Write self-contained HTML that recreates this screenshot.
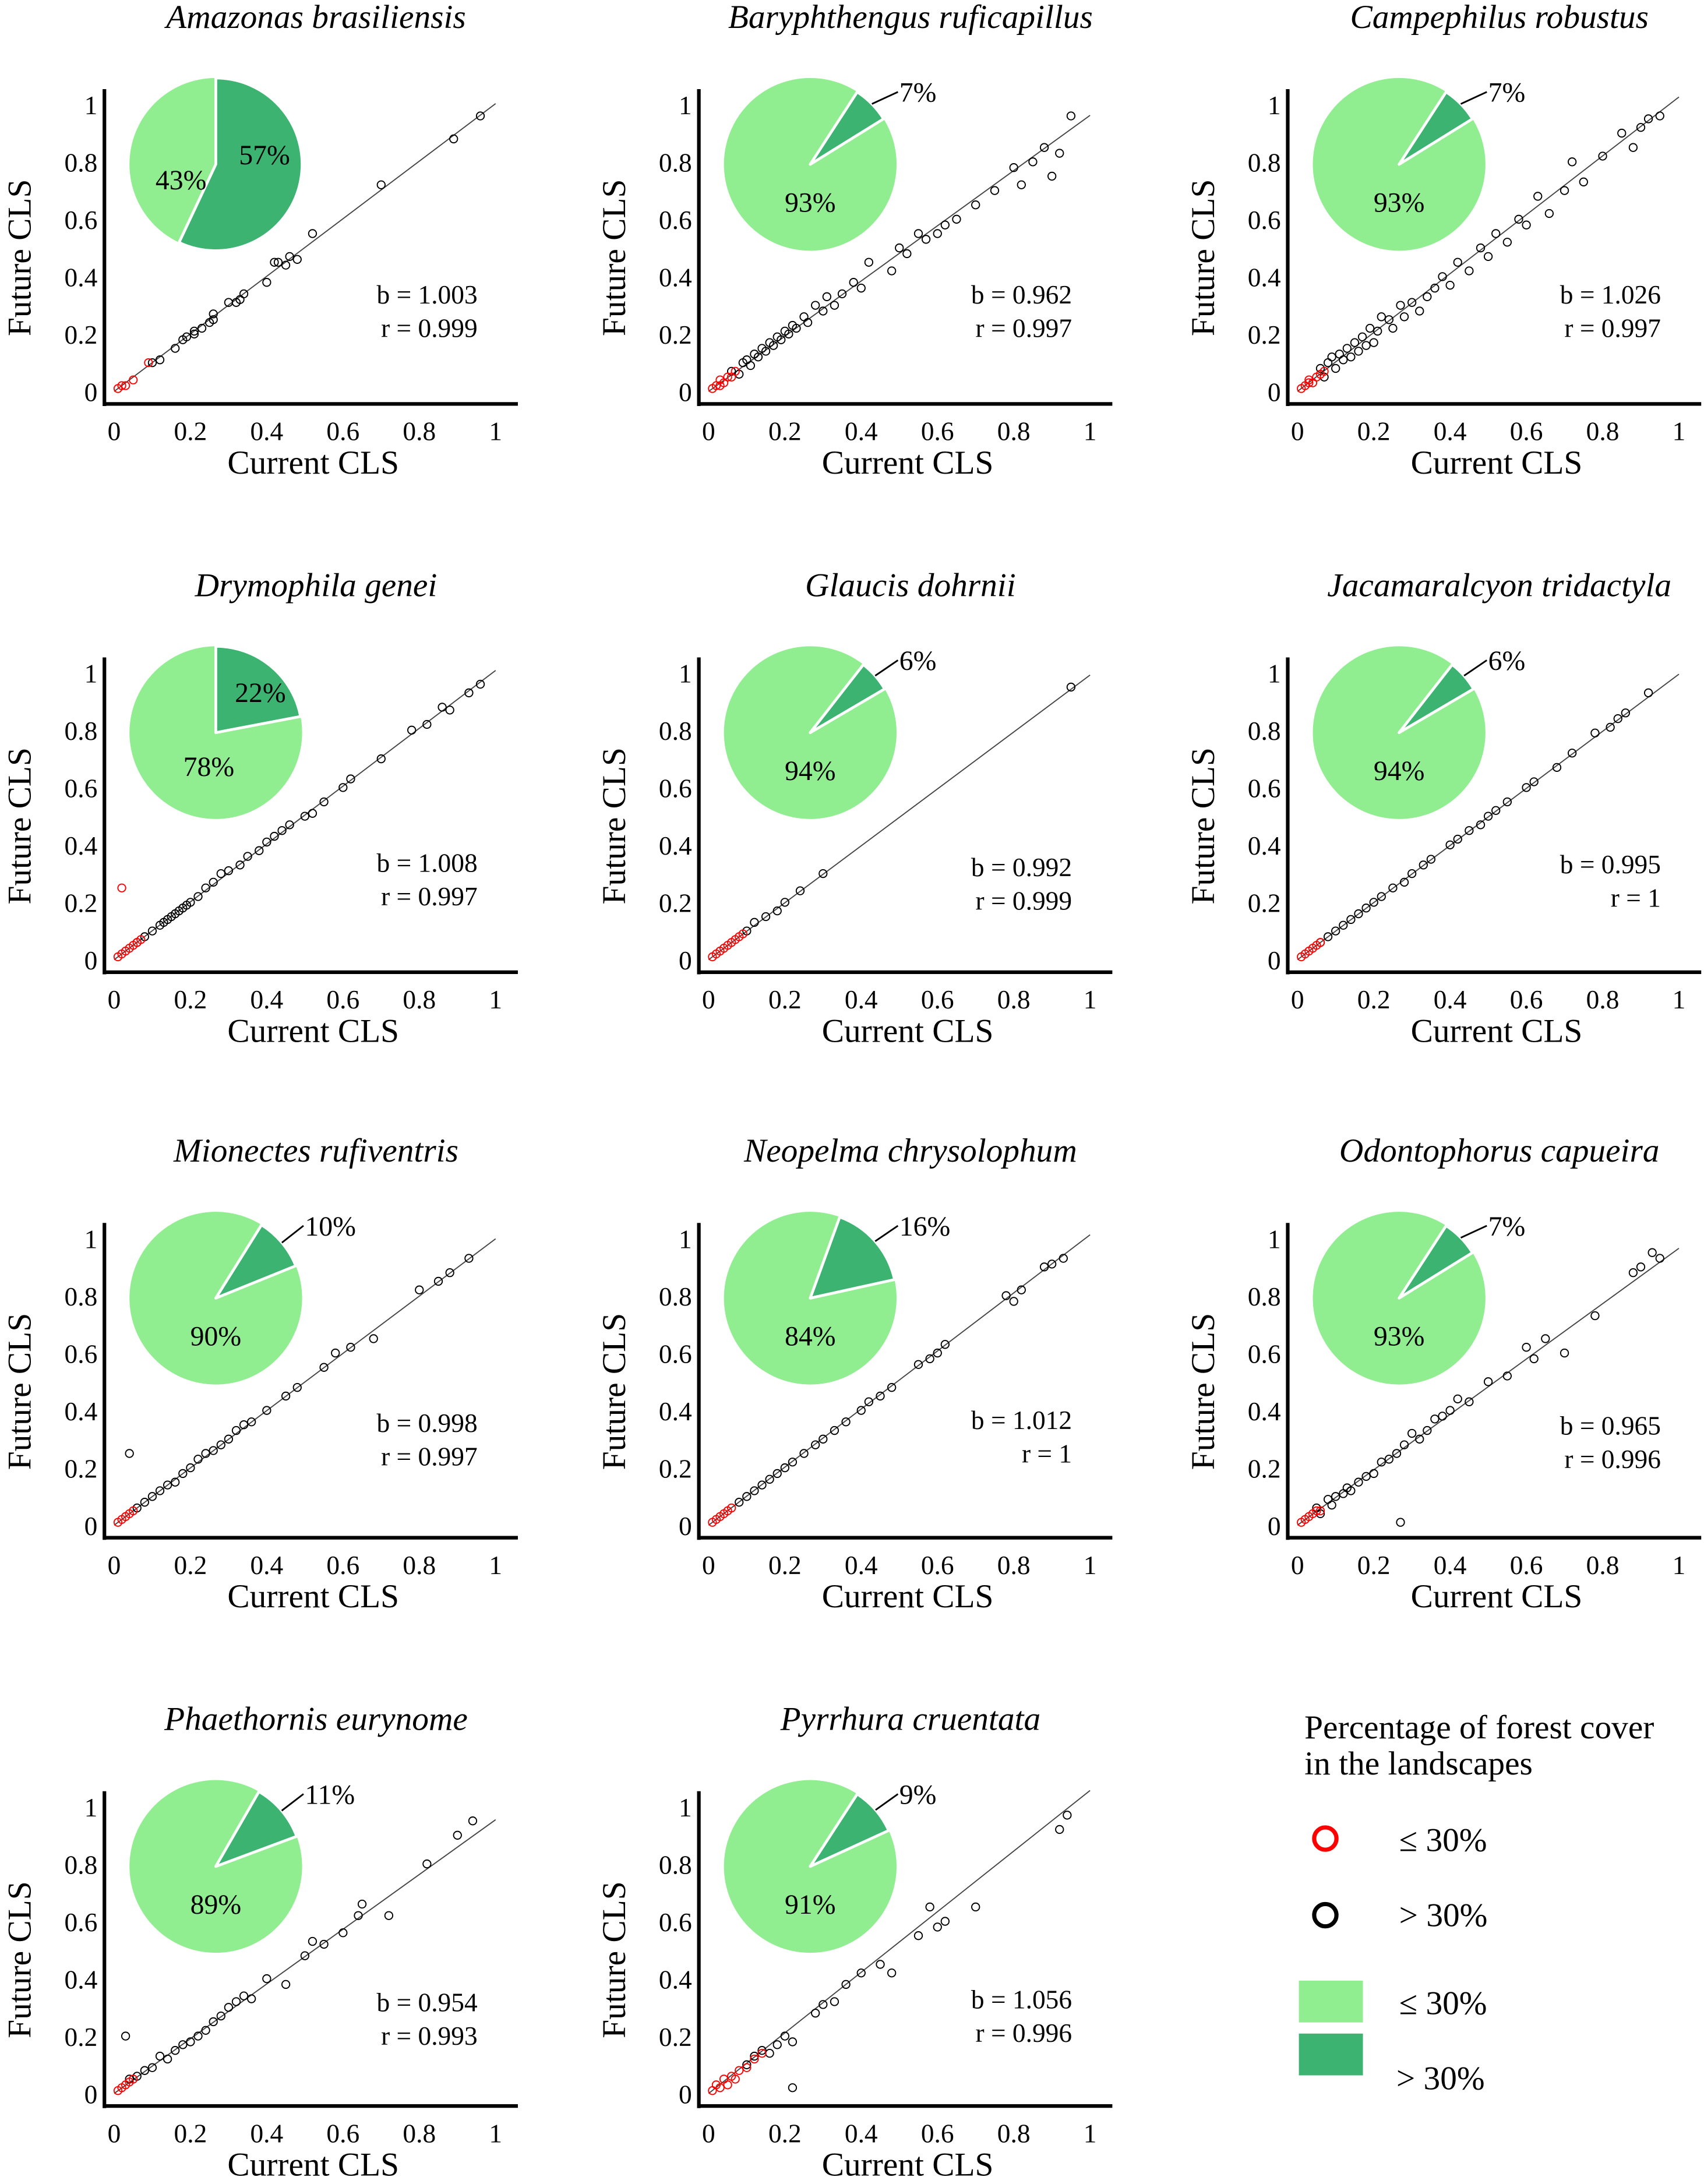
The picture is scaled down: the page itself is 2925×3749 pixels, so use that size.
<!DOCTYPE html>
<html><head><meta charset="utf-8">
<style>
html,body{margin:0;padding:0;background:#fff;}
svg{display:block;font-family:"Liberation Serif",serif;}
</style></head>
<body>
<svg id="fig" width="2925" height="3749" viewBox="0 0 1224 1568" preserveAspectRatio="none" xmlns="http://www.w3.org/2000/svg">
<g>
<text x="937" y="1248" font-size="24">Percentage of forest cover</text>
<text x="937" y="1274" font-size="24">in the landscapes</text>
<circle cx="952" cy="1320" r="8" fill="none" stroke="#ff0000" stroke-width="3"/>
<text x="1005" y="1329" font-size="24">≤ 30%</text>
<circle cx="952" cy="1375" r="8" fill="none" stroke="#000" stroke-width="3"/>
<text x="1005" y="1383" font-size="24">&gt; 30%</text>
<rect x="933" y="1422" width="46" height="30" fill="#90EE90"/>
<text x="1005" y="1446" font-size="24">≤ 30%</text>
<rect x="933" y="1460" width="46" height="30" fill="#3CB371"/>
<text x="1003" y="1500" font-size="24">&gt; 30%</text>
</g>
</svg>
<script>
// ---- data ----
const titles = ["Amazonas brasiliensis","Baryphthengus ruficapillus","Campephilus robustus","Drymophila genei","Glaucis dohrnii","Jacamaralcyon tridactyla","Mionectes rufiventris","Neopelma chrysolophum","Odontophorus capueira","Phaethornis eurynome","Pyrrhura cruentata"];
const darkPct = [57,7,7,22,6,6,10,16,7,11,9];
const slopes = ["1.003","0.962","1.026","1.008","0.992","0.995","0.998","1.012","0.965","0.954","1.056"];
const corrs = ["0.999","0.997","0.997","0.997","0.999","1","0.997","1","0.996","0.993","0.996"];
const tickLabels = ["0","0.2","0.4","0.6","0.8","1"];
const tickValues = [0,0.2,0.4,0.6,0.8,1];

const p1BlackX=[.10,.12,.16,.18,.19,.21,.21,.23,.25,.26,.26,.30,.32,.33,.34,.40,.42,.43,.45,.46,.48,.52,.70,.89,.96];
const p1BlackY=[.10,.11,.15,.18,.19,.20,.21,.22,.24,.25,.27,.31,.31,.32,.34,.38,.45,.45,.44,.47,.46,.55,.72,.88,.96];
const p1RedX=[.01,.02,.03,.05,.09];
const p1RedY=[.01,.02,.02,.04,.10];

const p2BlackX=[.06,.08,.09,.10,.11,.12,.13,.14,.15,.16,.17,.18,.19,.20,.21,.22,.23,.25,.26,.28,.30,.31,.33,.35,.38,.40,.42,.48,.50,.52,.55,.57,.60,.62,.65,.70,.75,.80,.82,.85,.88,.90,.92,.95];
const p2BlackY=[.07,.06,.10,.11,.09,.13,.12,.15,.14,.17,.16,.19,.18,.21,.20,.23,.22,.26,.24,.30,.28,.33,.30,.34,.38,.36,.45,.42,.50,.48,.55,.53,.55,.58,.60,.65,.70,.78,.72,.80,.85,.75,.83,.96];
const p2RedX=[.01,.02,.03,.03,.04,.05,.06,.07];
const p2RedY=[.01,.02,.02,.04,.03,.05,.05,.07];

const p3BlackX=[.06,.07,.08,.09,.10,.11,.12,.13,.14,.15,.16,.17,.18,.19,.20,.21,.22,.24,.25,.27,.28,.30,.32,.34,.36,.38,.40,.42,.45,.48,.50,.52,.55,.58,.60,.63,.66,.70,.72,.75,.80,.85,.88,.90,.92,.95];
const p3BlackY=[.08,.05,.10,.12,.08,.13,.11,.15,.12,.17,.14,.19,.16,.22,.17,.21,.26,.25,.22,.30,.26,.31,.28,.33,.36,.40,.37,.45,.42,.50,.47,.55,.52,.60,.58,.68,.62,.70,.80,.73,.82,.90,.85,.92,.95,.96];
const p3RedX=[.01,.02,.03,.03,.04,.05,.06,.07];
const p3RedY=[.01,.02,.03,.04,.03,.05,.06,.07];

const p4BlackX=[.06,.08,.10,.12,.13,.14,.15,.16,.17,.18,.19,.20,.22,.24,.26,.28,.30,.33,.35,.38,.40,.42,.44,.46,.50,.52,.55,.60,.62,.70,.78,.82,.86,.88,.93,.96];
const p4BlackY=[.06,.08,.10,.12,.13,.14,.15,.16,.17,.18,.19,.20,.22,.25,.27,.30,.31,.33,.36,.38,.41,.43,.45,.47,.50,.51,.55,.60,.63,.70,.80,.82,.88,.87,.93,.96];
const p4RedX=[.01,.02,.03,.04,.05,.06,.07,.02];
const p4RedY=[.01,.02,.03,.04,.05,.06,.07,.25];

const p5BlackX=[.10,.12,.15,.18,.20,.24,.30,.95];
const p5BlackY=[.10,.13,.15,.17,.20,.24,.30,.95];
const p5RedX=[.01,.02,.03,.04,.05,.06,.07,.08,.09];
const p5RedY=[.01,.02,.03,.04,.05,.06,.07,.08,.09];

const p6BlackX=[.06,.08,.10,.12,.14,.16,.18,.20,.22,.25,.28,.30,.33,.35,.40,.42,.45,.48,.50,.52,.55,.60,.62,.68,.72,.78,.82,.84,.86,.92];
const p6BlackY=[.06,.08,.10,.12,.14,.16,.18,.20,.22,.25,.27,.30,.33,.35,.40,.42,.45,.47,.50,.52,.55,.60,.62,.67,.72,.79,.81,.84,.86,.93];
const p6RedX=[.01,.02,.03,.04,.05,.06];
const p6RedY=[.01,.02,.03,.04,.05,.06];

const p7BlackX=[.06,.08,.10,.12,.14,.16,.18,.20,.22,.24,.26,.28,.30,.32,.34,.36,.40,.45,.48,.55,.58,.62,.68,.80,.85,.88,.93,.04];
const p7BlackY=[.06,.08,.10,.12,.14,.15,.18,.20,.23,.25,.26,.28,.30,.33,.35,.36,.40,.45,.48,.55,.60,.62,.65,.82,.85,.88,.93,.25];
const p7RedX=[.01,.02,.03,.04,.05];
const p7RedY=[.01,.02,.03,.04,.05];

const p8BlackX=[.08,.10,.12,.14,.16,.18,.20,.22,.25,.28,.30,.33,.36,.40,.42,.45,.48,.55,.58,.60,.62,.78,.80,.82,.88,.90,.93];
const p8BlackY=[.08,.10,.12,.14,.16,.18,.20,.22,.25,.28,.30,.33,.36,.40,.43,.45,.48,.56,.58,.60,.63,.80,.78,.82,.90,.91,.93];
const p8RedX=[.01,.02,.03,.04,.05,.06];
const p8RedY=[.01,.02,.03,.04,.05,.06];

const p9BlackX=[.05,.06,.08,.09,.10,.12,.13,.14,.16,.18,.20,.22,.24,.26,.28,.30,.32,.34,.36,.38,.40,.42,.45,.50,.55,.60,.62,.65,.70,.78,.88,.90,.93,.95,.27];
const p9BlackY=[.06,.04,.09,.07,.10,.11,.13,.12,.15,.17,.18,.22,.23,.25,.28,.32,.30,.33,.37,.38,.40,.44,.43,.50,.52,.62,.58,.65,.60,.73,.88,.90,.95,.93,.01];
const p9RedX=[.01,.02,.03,.04,.05,.06];
const p9RedY=[.01,.02,.03,.04,.05,.05];

const p10BlackX=[.04,.06,.08,.10,.12,.14,.16,.18,.20,.22,.24,.26,.28,.30,.32,.34,.36,.40,.45,.50,.52,.55,.60,.64,.65,.72,.82,.90,.94,.03];
const p10BlackY=[.05,.06,.08,.09,.13,.12,.15,.17,.18,.20,.22,.25,.27,.30,.32,.34,.33,.40,.38,.48,.53,.52,.56,.62,.66,.62,.80,.90,.95,.20];
const p10RedX=[.01,.02,.03,.04,.05];
const p10RedY=[.01,.02,.03,.04,.05];

const p11BlackX=[.10,.12,.14,.16,.18,.20,.22,.28,.30,.33,.36,.40,.45,.48,.55,.58,.60,.62,.70,.92,.94,.22];
const p11BlackY=[.10,.13,.15,.14,.17,.20,.18,.28,.31,.32,.38,.42,.45,.42,.55,.65,.58,.60,.65,.92,.97,.02];
const p11RedX=[.01,.02,.03,.04,.05,.06,.07,.08,.10,.12,.14];
const p11RedY=[.01,.03,.02,.05,.03,.06,.05,.08,.09,.12,.14];

const blackXs=[p1BlackX,p2BlackX,p3BlackX,p4BlackX,p5BlackX,p6BlackX,p7BlackX,p8BlackX,p9BlackX,p10BlackX,p11BlackX];
const blackYs=[p1BlackY,p2BlackY,p3BlackY,p4BlackY,p5BlackY,p6BlackY,p7BlackY,p8BlackY,p9BlackY,p10BlackY,p11BlackY];
const redXs=[p1RedX,p2RedX,p3RedX,p4RedX,p5RedX,p6RedX,p7RedX,p8RedX,p9RedX,p10RedX,p11RedX];
const redYs=[p1RedY,p2RedY,p3RedY,p4RedY,p5RedY,p6RedY,p7RedY,p8RedY,p9RedY,p10RedY,p11RedY];

// ---- layout ----
const colX=[75,502,925];
const rowY=[290,698,1104,1512];
const statDy=[-72,-72,-72,-72,-69,-71,-76,-78,-74,-68,-70];
const pieStartDeg=[0,33,33,0,38,38,32,20,33,30,33];
const svg=document.getElementById('fig');
const NS='http://www.w3.org/2000/svg';
function mk(tag,attrs,parent){const e=document.createElementNS(NS,tag);for(const k in attrs)e.setAttribute(k,attrs[k]);parent.appendChild(e);return e;}

titles.forEach((t,i)=>{
  const ax=colX[i%3], ay=rowY[Math.floor(i/3)];
  const sx=v=>ax+7+v*274;
  const sy=v=>ay-9-v*206;
  const g=mk('g',{},svg);
  
  
  const tt=mk('text',{x:ax+152,y:ay-270,'font-size':24,'font-style':'italic','text-anchor':'middle'},g);
  tt.textContent=t;
  
  
  const ya=mk('line',{x1:ax,y1:ay-226,x2:ax,y2:ay+1.5,stroke:'#000','stroke-width':2.6},g);
  
  
  const xa=mk('line',{x1:ax-1,y1:ay,x2:ax+297,y2:ay,stroke:'#000','stroke-width':2.6},g);
  
  
  tickValues.forEach((v,k)=>{
    const xt=mk('text',{x:sx(v),y:ay+26,'font-size':19,'text-anchor':'middle'},g);
    xt.textContent=tickLabels[k];
    
    
    const yt=mk('text',{x:ax-5,y:sy(v)+7,'font-size':19,'text-anchor':'end'},g);
    yt.textContent=tickLabels[k];
    
    
  });
  const xl=mk('text',{x:ax+150,y:ay+50,'font-size':24,'text-anchor':'middle'},g);
  xl.textContent='Current CLS';
  
  
  const yl=mk('text',{x:0,y:0,'font-size':24,'text-anchor':'middle',transform:`translate(${ax-53},${ay-105}) rotate(-90)`},g);
  yl.textContent='Future CLS';
  
  
  const b=parseFloat(slopes[i]);
  const rl=mk('line',{x1:sx(0),y1:sy(0),x2:sx(1),y2:sy(b),stroke:'#444','stroke-width':0.8},g);
  
  
  blackXs[i].forEach((x,k)=>{
    const c=mk('circle',{cx:sx(x),cy:sy(blackYs[i][k]),r:2.8,fill:'none',stroke:'#000','stroke-width':0.8},g);
    
    
  });
  redXs[i].forEach((x,k)=>{
    const c=mk('circle',{cx:sx(x),cy:sy(redYs[i][k]),r:2.8,fill:'none',stroke:'#ff0000','stroke-width':0.8},g);
    
    
  });
  const st1=mk('text',{x:ax+268,y:ay+statDy[i],'font-size':19,'text-anchor':'end'},g);
  st1.textContent='b = '+slopes[i];
  
  
  const st2=mk('text',{x:ax+268,y:ay+statDy[i]+24,'font-size':19,'text-anchor':'end'},g);
  st2.textContent='r = '+corrs[i];
  
  
  // pie
  const cx=ax+80, cy=ay-172, R=62;
  const p=darkPct[i]/100, a0=pieStartDeg[i]*Math.PI/180, a1=a0+p*2*Math.PI;
  const sxp=cx+R*Math.sin(a0), syp=cy-R*Math.cos(a0);
  const ex=cx+R*Math.sin(a1), ey=cy-R*Math.cos(a1);
  const lc=mk('circle',{cx:cx,cy:cy,r:R,fill:'#90EE90'},g);
  
  
  const ds=mk('path',{d:`M${cx},${cy} L${sxp},${syp} A${R},${R} 0 ${p>0.5?1:0} 1 ${ex},${ey} Z`,fill:'#3CB371',stroke:'#fff','stroke-width':2,'stroke-linejoin':'round'},g);
  
  
  const lightLbl=mk('text',{'font-size':20,'text-anchor':'middle'},g);
  const darkLbl=mk('text',{'font-size':20},g);
  lightLbl.textContent=(100-darkPct[i])+'%';
  darkLbl.textContent=darkPct[i]+'%';
  
  
  
  
  if(darkPct[i]>=50){
    darkLbl.setAttribute('x',cx+35);darkLbl.setAttribute('y',cy);darkLbl.setAttribute('text-anchor','middle');
    lightLbl.setAttribute('x',cx-25);lightLbl.setAttribute('y',cy+18);
  } else if(darkPct[i]>=20){
    darkLbl.setAttribute('x',cx+32);darkLbl.setAttribute('y',cy-22);darkLbl.setAttribute('text-anchor','middle');
    lightLbl.setAttribute('x',cx-5);lightLbl.setAttribute('y',cy+31);
  } else {
    lightLbl.setAttribute('x',cx);lightLbl.setAttribute('y',cy+34);
    const m=(a0+a1)/2, px=cx+R*Math.sin(m), py=cy-R*Math.cos(m);
    const tx=cx+63, ty=cy-52;
    const ll=mk('line',{x1:px,y1:py,x2:tx,y2:ty,stroke:'#000','stroke-width':1.2},g);
    
    
    darkLbl.setAttribute('x',tx+1);darkLbl.setAttribute('y',ty+7);
  }
});
</script>
</body></html>
